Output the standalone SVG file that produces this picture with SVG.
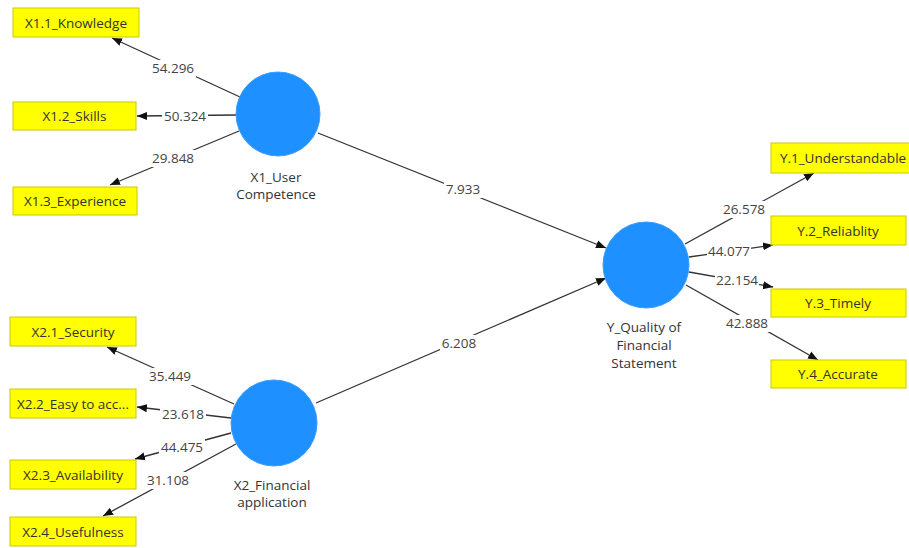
<svg xmlns="http://www.w3.org/2000/svg" width="909" height="548" viewBox="0 0 909 548">
<style>
.box{fill:#ffff00;stroke:#c9c900;stroke-width:1}
.lv{fill:#1e90ff;stroke:#3a9cff;stroke-width:1}
.t{font-family:"Open Sans","Noto Sans",sans-serif;font-size:13.5px;fill:#333;text-anchor:middle;dominant-baseline:central}
.n{font-family:"Open Sans","Noto Sans",sans-serif;font-size:13.5px;fill:#444;text-anchor:middle;dominant-baseline:central}
.bg{fill:#fff}
.c{stroke:#333;stroke-width:1.3;fill:none;marker-end:url(#ah)}
</style>
<defs>
<marker id="ah" viewBox="0 0 10 10" refX="10" refY="5" markerWidth="10" markerHeight="10" markerUnits="userSpaceOnUse" orient="auto">
<path d="M0,1 L10,5 L0,9 Z" fill="#111"/>
</marker>
</defs>
<rect width="909" height="548" fill="#fff"/>
<g id="connectors">
<line class="c" x1="240" y1="97" x2="112" y2="38"/>
<line class="c" x1="236" y1="115" x2="137" y2="116"/>
<line class="c" x1="239" y1="131" x2="110" y2="185"/>
<line class="c" x1="318" y1="133" x2="606" y2="248"/>
<line class="c" x1="234" y1="404" x2="107" y2="347"/>
<line class="c" x1="231" y1="418" x2="137" y2="407"/>
<line class="c" x1="231" y1="433" x2="135" y2="459"/>
<line class="c" x1="236" y1="444" x2="103" y2="516"/>
<line class="c" x1="316" y1="403" x2="606" y2="278"/>
<line class="c" x1="685" y1="244" x2="814" y2="173"/>
<line class="c" x1="689" y1="257" x2="773" y2="245"/>
<line class="c" x1="689" y1="272" x2="773" y2="287"/>
<line class="c" x1="686" y1="285" x2="818" y2="360"/>
<rect class="bg" x="150" y="60" width="46" height="17"/><text class="n" x="173" y="68">54.296</text>
<rect class="bg" x="162" y="108" width="46" height="17"/><text class="n" x="185" y="116">50.324</text>
<rect class="bg" x="150" y="150" width="46" height="17"/><text class="n" x="173" y="158">29.848</text>
<rect class="bg" x="444" y="181" width="38" height="17"/><text class="n" x="463" y="189">7.933</text>
<rect class="bg" x="147" y="368" width="46" height="17"/><text class="n" x="170" y="376">35.449</text>
<rect class="bg" x="160" y="406" width="46" height="17"/><text class="n" x="183" y="414">23.618</text>
<rect class="bg" x="159" y="439" width="46" height="17"/><text class="n" x="182" y="447">44.475</text>
<rect class="bg" x="145" y="472" width="46" height="17"/><text class="n" x="168" y="480">31.108</text>
<rect class="bg" x="440" y="335" width="38" height="17"/><text class="n" x="459" y="343">6.208</text>
<rect class="bg" x="721" y="201" width="46" height="17"/><text class="n" x="744" y="209">26.578</text>
<rect class="bg" x="707" y="243" width="44" height="16"/><text class="n" x="729" y="251">44.077</text>
<rect class="bg" x="715" y="272" width="44" height="16"/><text class="n" x="737" y="280">22.154</text>
<rect class="bg" x="724" y="315" width="46" height="17"/><text class="n" x="747" y="323">42.888</text>
</g>
<g id="X1_User_Competence">
<circle class="lv" cx="278" cy="114" r="42"/>
<text class="t" x="276" y="177">X1_User</text>
<text class="t" x="276" y="194">Competence</text>
</g>
<g id="X2_Financial_application">
<circle class="lv" cx="274" cy="423" r="43"/>
<text class="t" x="272" y="485">X2_Financial</text>
<text class="t" x="272" y="502">application</text>
</g>
<g id="Y_Quality">
<circle class="lv" cx="646" cy="265" r="43"/>
<text class="t" x="644" y="327">Y_Quality of</text>
<text class="t" x="644" y="345">Financial</text>
<text class="t" x="644" y="363">Statement</text>
</g>
<g id="X1.1"><rect class="box" x="13" y="8" width="126" height="29"/><text class="t" x="76" y="22.5">X1.1_Knowledge</text></g>
<g id="X1.2"><rect class="box" x="13" y="102" width="123" height="28"/><text class="t" x="74.5" y="116">X1.2_Skills</text></g>
<g id="X1.3"><rect class="box" x="13" y="187" width="124" height="28"/><text class="t" x="75" y="201">X1.3_Experience</text></g>
<g id="X2.1"><rect class="box" x="10" y="317" width="126" height="29"/><text class="t" x="73" y="331.5">X2.1_Security</text></g>
<g id="X2.2"><rect class="box" x="10" y="389" width="126" height="29"/><text class="t" x="73" y="403.5">X2.2_Easy to acc...</text></g>
<g id="X2.3"><rect class="box" x="10" y="460" width="126" height="29"/><text class="t" x="73" y="474.5">X2.3_Availability</text></g>
<g id="X2.4"><rect class="box" x="10" y="517" width="126" height="29"/><text class="t" x="73" y="531.5">X2.4_Usefulness</text></g>
<g id="Y.1"><rect class="box" x="771" y="143" width="140" height="30"/><text class="t" x="843" y="158">Y.1_Understandable</text></g>
<g id="Y.2"><rect class="box" x="771" y="216" width="135" height="29"/><text class="t" x="838" y="230.5">Y.2_Reliablity</text></g>
<g id="Y.3"><rect class="box" x="771" y="289" width="135" height="28"/><text class="t" x="838" y="303">Y.3_Timely</text></g>
<g id="Y.4"><rect class="box" x="771" y="360" width="135" height="28"/><text class="t" x="838" y="374">Y.4_Accurate</text></g>
</svg>
